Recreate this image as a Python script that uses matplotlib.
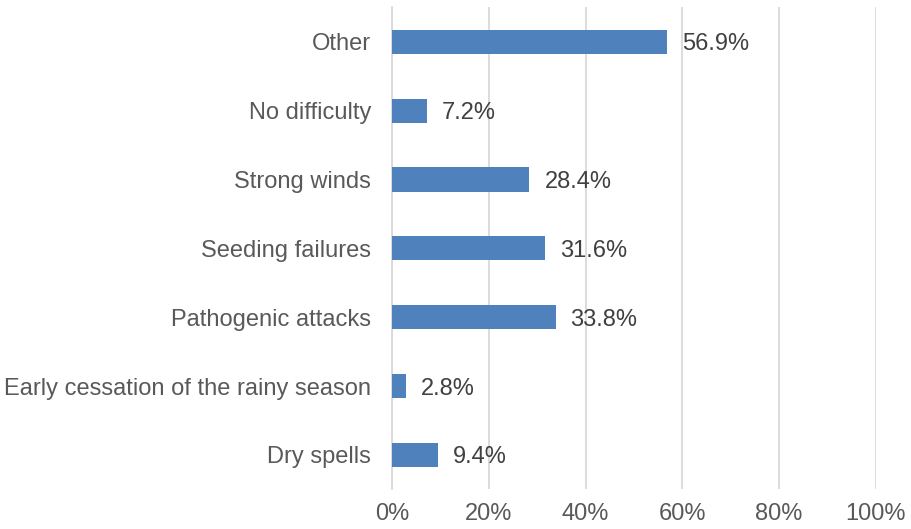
import matplotlib.pyplot as plt
import numpy as np

plt.rcParams['font.family'] = ['Liberation Sans', 'DejaVu Sans']

categories = ['Dry spells', 'Early cessation of the rainy season', 'Pathogenic attacks',
              'Seeding failures', 'Strong winds', 'No difficulty', 'Other']
values = [9.4, 2.8, 33.8, 31.6, 28.4, 7.2, 56.9]
xticks = [0, 20, 40, 60, 80, 100]

fig = plt.figure(figsize=(9.12, 5.29), dpi=100)
ax = fig.add_axes([0.43, 0.075, 0.53, 0.911])

y = np.arange(len(categories))
ax.barh(y, values, height=0.35, color='#4F81BD', zorder=3)

for yi, v in zip(y, values):
    ax.text(v + 3.1, yi, f'{v:.1f}%', va='center_baseline', ha='left',
            fontsize=17, color='#404040')

ax.set_xlim(0, 100)
ax.set_ylim(-0.5, len(categories) - 0.5)
ax.set_xticks(xticks)
ax.set_xticklabels([f'{t}%' for t in xticks])
ax.set_yticks(y)
ax.set_yticklabels(categories)
ax.tick_params(axis='both', length=0, labelsize=17, labelcolor='#595959')
ax.tick_params(axis='y', pad=15)
ax.tick_params(axis='x', pad=10)
ax.xaxis.grid(True, color='#D9D9D9', linewidth=1.3, zorder=0)

for s in ['top', 'right', 'bottom']:
    ax.spines[s].set_visible(False)
ax.spines['left'].set_color('#D9D9D9')
ax.spines['left'].set_linewidth(1.3)

fig.savefig('out.png', dpi=100)
